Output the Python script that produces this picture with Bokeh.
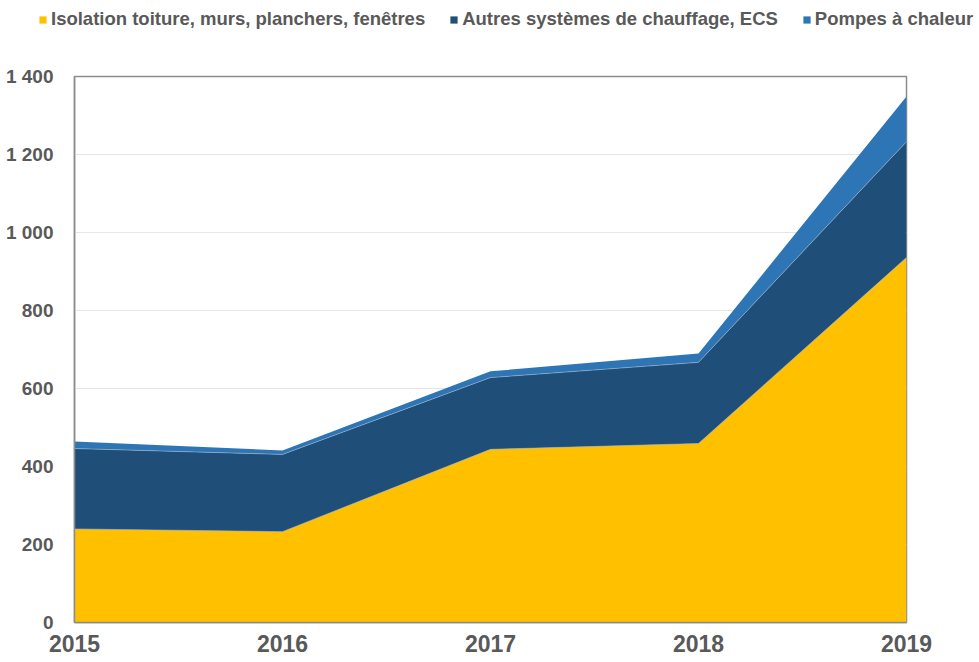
from bokeh.plotting import figure
from bokeh.layouts import column
from bokeh.models import ColumnDataSource, Range1d, FixedTicker, Legend, LegendItem
from bokeh.embed import file_html
from bokeh.resources import INLINE
import numpy as np

years = [2015, 2016, 2017, 2018, 2019]
isolation = [240, 233, 444, 459, 936]
autres = [206, 198, 184, 208, 297]
pompes = [18, 10, 16, 23, 116]

series_names = ["Isolation toiture, murs, planchers, fenêtres",
                "Autres systèmes de chauffage, ECS",
                "Pompes à chaleur"]
series_keys = ["isolation", "autres", "pompes"]
colors = ["#FFC000", "#1F4E79", "#2E75B6"]

y_ticks = [0, 200, 400, 600, 800, 1000, 1200, 1400]
y_tick_labels = ["0", "200", "400", "600", "800", "1 000", "1 200", "1 400"]
x_tick_labels = ["2015", "2016", "2017", "2018", "2019"]

source = ColumnDataSource(dict(year=years, isolation=isolation, autres=autres, pompes=pompes))

FONT = "Liberation Sans"
GREY = "#595959"

# ---------- legend strip (top) ----------
LEG_H = 34
lg = figure(width=979, height=LEG_H, output_backend="svg", toolbar_location=None,
            x_range=Range1d(0, 1), y_range=Range1d(0, 1),
            x_axis_type=None, y_axis_type=None,
            min_border_left=0, min_border_right=0, min_border_top=0, min_border_bottom=0)
lg.frame_align = False
lg.grid.visible = False
lg.outline_line_color = None
# same stacked areas, outside the strip's visible range: only used as legend swatches
leg_renderers = lg.varea_stack(stackers=series_keys, x="year", color=colors, source=source)

legend = Legend(items=[LegendItem(label=n, renderers=[r]) for n, r in zip(series_names, leg_renderers)],
                orientation="horizontal", location=(38, 4),
                glyph_width=9, glyph_height=9, label_standoff=4, spacing=24,
                padding=0, margin=0, border_line_alpha=0, background_fill_alpha=0,
                label_text_font=FONT, label_text_font_style="bold",
                label_text_font_size="18.5px", label_text_color=GREY)
lg.add_layout(legend, "center")

# ---------- main chart ----------
p = figure(width=979, height=662 - LEG_H, output_backend="svg", toolbar_location=None,
           x_range=Range1d(2015, 2019), y_range=Range1d(0, 1400),
           min_border_left=74, min_border_right=73, min_border_top=76 - LEG_H, min_border_bottom=40)
p.frame_align = False

renderers = p.varea_stack(stackers=series_keys, x="year", color=colors, source=source)

# thin light separators between the layers
c1 = np.array(isolation)
c2 = c1 + np.array(autres)
p.line(years, list(c1), line_color="#a9b8c8", line_width=0.8, line_alpha=0.7)
p.line(years, list(c2), line_color="#a9b8c8", line_width=0.8, line_alpha=0.7)

p.xgrid.grid_line_color = None
p.ygrid.grid_line_color = "#e6e6e6"
p.ygrid.grid_line_width = 1.2
p.ygrid.ticker = FixedTicker(ticks=y_ticks)

p.outline_line_color = "#8c8c8c"
p.outline_line_width = 1.5

p.yaxis.ticker = FixedTicker(ticks=y_ticks)
p.yaxis.major_label_overrides = {t: l for t, l in zip(y_ticks, y_tick_labels)}
p.xaxis.ticker = FixedTicker(ticks=years)
p.xaxis.major_label_overrides = {y: l for y, l in zip(years, x_tick_labels)}

for ax in (p.xaxis, p.yaxis):
    ax.axis_line_color = "#8c8c8c"
    ax.axis_line_width = 1.5
    ax.major_tick_line_color = None
    ax.minor_tick_line_color = None
    ax.major_tick_out = 0
    ax.major_tick_in = 0
    ax.minor_tick_out = 0
    ax.major_label_text_font = FONT
    ax.major_label_text_font_style = "bold"
    ax.major_label_text_color = GREY

p.yaxis.major_label_text_font_size = "19px"
p.yaxis.major_label_standoff = 21
p.xaxis.major_label_text_font_size = "23px"
p.xaxis.major_label_standoff = 12

layout = column(lg, p, spacing=0)
open("out.html", "w").write(file_html(layout, INLINE))
